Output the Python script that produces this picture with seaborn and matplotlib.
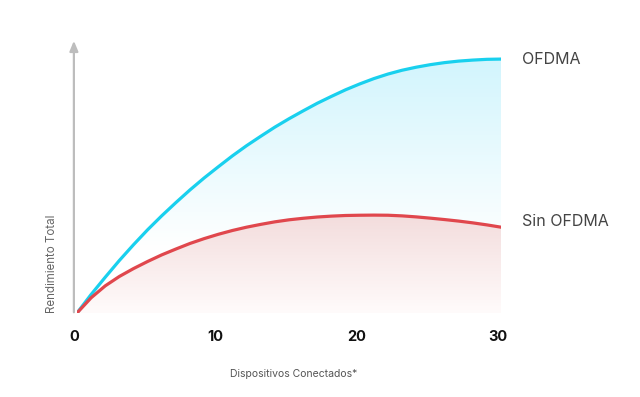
import numpy as np
import pandas as pd
import matplotlib
matplotlib.use("Agg")
import matplotlib.pyplot as plt
from matplotlib.colors import LinearSegmentedColormap
from matplotlib.transforms import ScaledTranslation
import seaborn as sns

# values (relative throughput, 0-100)
dispositivos = list(range(0, 31))
ofdma = [0, 7.3, 14.1, 20.7, 26.9, 32.8, 38.3, 43.5, 48.5, 53.2, 57.6,
         61.9, 65.9, 69.6, 73.2, 76.5, 79.6, 82.6, 85.3, 87.9, 90.2,
         92.3, 94.1, 95.6, 96.8, 97.8, 98.6, 99.2, 99.6, 99.9, 100.0]
sin_ofdma = [0, 6.0, 10.7, 14.4, 17.5, 20.3, 22.9, 25.2, 27.4, 29.3, 31.0,
             32.5, 33.8, 34.9, 35.9, 36.7, 37.3, 37.8, 38.15, 38.4, 38.5,
             38.55, 38.5, 38.25, 37.85, 37.35, 36.8, 36.2, 35.5, 34.7, 33.8]
x_ticks = [0, 10, 20, 30]
series_names = ["OFDMA", "Sin OFDMA"]

df = pd.DataFrame({"x": dispositivos * 2,
                   "y": ofdma + sin_ofdma,
                   "serie": [series_names[0]] * len(ofdma) + [series_names[1]] * len(sin_ofdma)})

sns.set_style("white")
plt.rcParams["font.family"] = ["Inter", "DejaVu Sans"]

fig = plt.figure(figsize=(6.4, 3.97), dpi=100)
ax = fig.add_axes([77 / 640, 1 - 313 / 397, 424 / 640, 275 / 397])
ymax = 108.3

# gradient fills clipped to the areas under each curve
def gradient_fill(x, y_top, y_bot, c_top, c_bot, y0, y1):
    poly = ax.fill_between(x, y_bot, y_top, color="none", lw=0)
    cmap = LinearSegmentedColormap.from_list("g", [c_bot, c_top])
    grad = np.linspace(0, 1, 256).reshape(-1, 1)
    im = ax.imshow(grad, cmap=cmap, aspect="auto", origin="lower",
                   extent=[0, 30, y0, y1], zorder=1)
    im.set_clip_path(poly.get_paths()[0], transform=ax.transData)

gradient_fill(dispositivos, ofdma, sin_ofdma, "#d2f5fd", "#ffffff", 25, 100)
gradient_fill(dispositivos, sin_ofdma, [0] * len(sin_ofdma), "#f3dcdc", "#fffbfb", 0, 39)
ax.set_xlim(0, 30)
ax.set_ylim(0, ymax)

sns.lineplot(data=df, x="x", y="y", hue="serie", palette=["#19d0ee", "#e0474d"],
             linewidth=2.3, legend=False, ax=ax, zorder=3)
for line in ax.lines:
    line.set_solid_capstyle("round")
    line.set_solid_joinstyle("round")

sns.despine(ax=ax, left=True, bottom=True)

# vertical axis arrow
ax.annotate("", xy=(-0.22, ymax), xytext=(-0.22, -0.8),
            arrowprops=dict(arrowstyle="-|>,head_width=0.25,head_length=0.6",
                            color="#bdbdbd", lw=1.6),
            annotation_clip=False)

ax.set_yticks([])
ax.set_xticks(x_ticks)
ax.set_xticklabels([str(t) for t in x_ticks], fontsize=10.5, fontweight="bold", color="#111111")
ax.tick_params(axis="x", length=0, pad=12)
shift = ScaledTranslation(-3 / 100, 0, fig.dpi_scale_trans)
for lab in ax.get_xticklabels():
    lab.set_transform(lab.get_transform() + shift)
ax.set_xlabel("Dispositivos Conectados*", fontsize=7.5, color="#555555", labelpad=19)
ax.xaxis.set_label_coords(0.51, -0.205)
ax.set_ylabel("")
fig.text(52 / 640, 1 - 313 / 397, "Rendimiento Total", rotation=90, fontsize=8.3,
         color="#666666", ha="center", va="bottom")

ax.text(522 / 640, 1 - 59 / 397, series_names[0], transform=fig.transFigure,
        fontsize=11.5, color="#444444", va="center", ha="left")
ax.text(522 / 640, 1 - 222 / 397, series_names[1], transform=fig.transFigure,
        fontsize=11.5, color="#444444", va="center", ha="left")

fig.savefig("out.png", dpi=100)
